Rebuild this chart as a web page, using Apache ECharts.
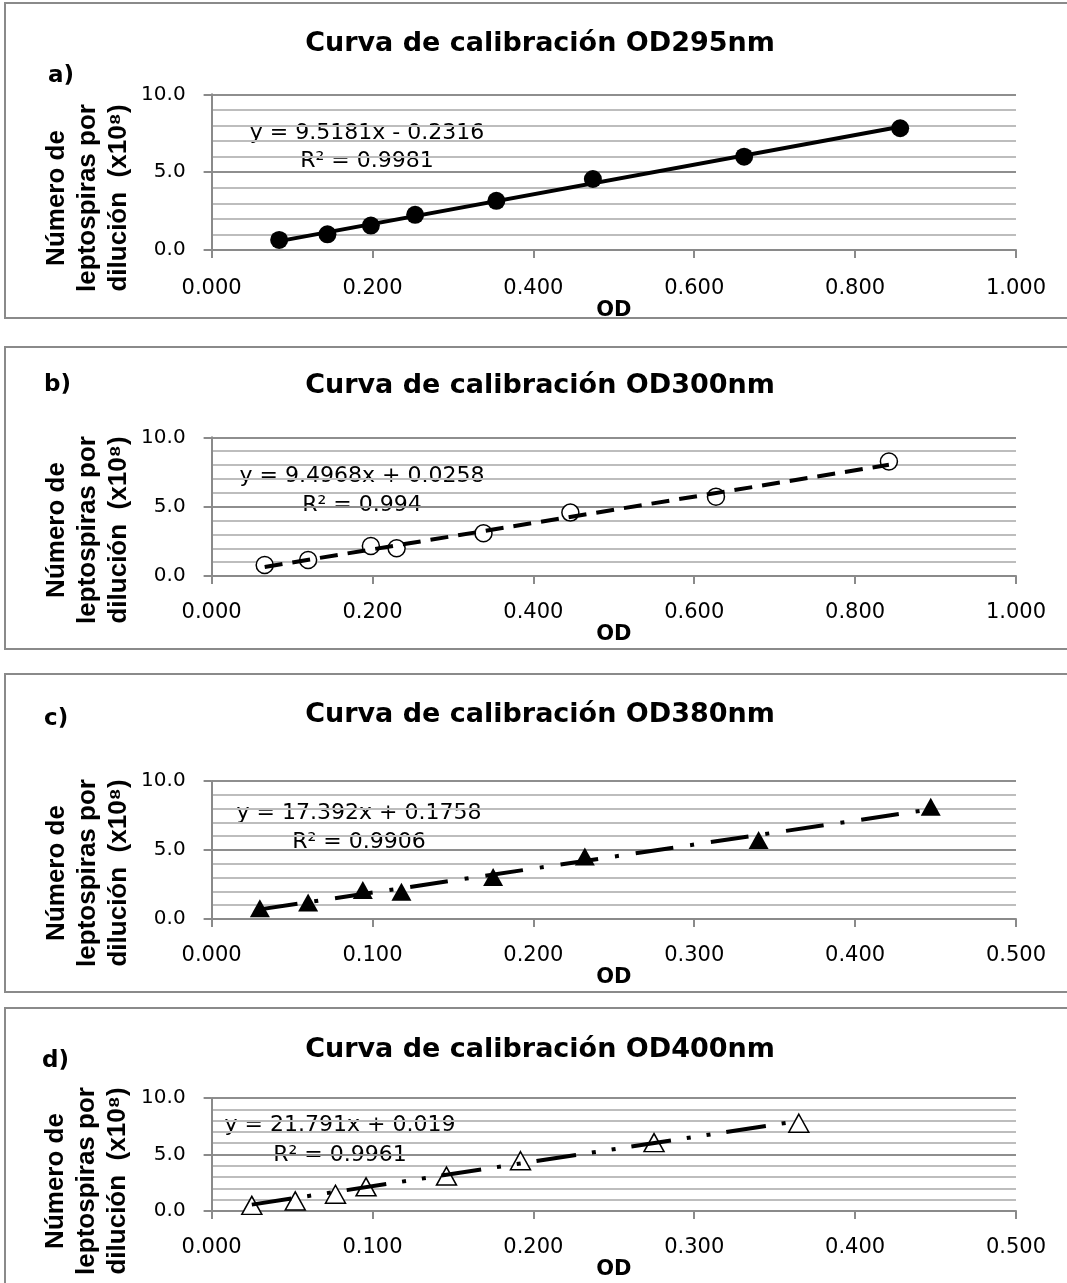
<!DOCTYPE html>
<html><head><meta charset="utf-8">
<script src="https://cdn.jsdelivr.net/npm/echarts@6/dist/echarts.min.js"></script>
<style>html,body{margin:0;padding:0;background:#fff}#c{width:1067px;height:1283px}</style>
</head><body><div id="c"></div>
<script>
// ---- data ----
const panelLabels = ['a)', 'b)', 'c)', 'd)'];
const titles = ['Curva de calibración OD295nm', 'Curva de calibración OD300nm', 'Curva de calibración OD380nm', 'Curva de calibración OD400nm'];
const yAxisName = 'Número de\nleptospiras por\ndilución  (x10⁸)';
const xAxisName = 'OD';
const od295 = [0.084, 0.144, 0.198, 0.253, 0.354, 0.474, 0.662, 0.856];
const n295  = [0.65, 1.01, 1.57, 2.26, 3.16, 4.56, 5.99, 7.82];
const od300 = [0.066, 0.120, 0.198, 0.230, 0.338, 0.446, 0.627, 0.842];
const n300  = [0.79, 1.15, 2.16, 2.00, 3.08, 4.57, 5.72, 8.25];
const od380 = [0.030, 0.060, 0.094, 0.118, 0.175, 0.232, 0.340, 0.447];
const n380  = [0.77, 1.20, 2.10, 1.98, 3.04, 4.52, 5.72, 8.14];
const od400 = [0.025, 0.052, 0.077, 0.096, 0.146, 0.192, 0.275, 0.365];
const n400  = [0.50, 0.89, 1.48, 2.14, 3.09, 4.45, 6.05, 7.77];
const slopes = [9.5181, 9.4968, 17.392, 21.791];
const intercepts = [-0.2316, 0.0258, 0.1758, 0.019];
const eqTexts = ['y = 9.5181x - 0.2316', 'y = 9.4968x + 0.0258', 'y = 17.392x + 0.1758', 'y = 21.791x + 0.019'];
const r2Texts = ['R² = 0.9981', 'R² = 0.994', 'R² = 0.9906', 'R² = 0.9961'];
const xMaxes = [1.0, 1.0, 0.5, 0.5];
const xIntervals = [0.2, 0.2, 0.1, 0.1];
const yMax = 10, yInterval = 5;

// ---- layout / style ----
const odList = [od295, od300, od380, od400];
const nList = [n295, n300, n380, n400];
const gridTops = [94.3, 437.3, 781, 1098];
const gridHeights = [155.7, 138.7, 138, 113];
const gridLeft = 211.6, gridWidth = 804.4;
const nameGaps = [35, 40, 40, 40];
const labelMargins = [28, 26, 26, 26];
const boxes = [[5, 3, 1080, 315], [5, 347, 1080, 302], [5, 674, 1080, 318], [5, 1008, 1080, 300]];
const labelPos = [[48, 76], [44, 385], [44, 719], [42, 1061]];
const titleY = [44, 386, 715, 1050];
const yNamePos = [[88, 198], [88, 530], [88, 873], [87, 1181]];
const eqPos = [[367, 133, 161], [362, 476, 505], [359, 813, 842], [340, 1125, 1155]];
const lineTypes = ['solid', [18, 10], [38, 17, 4, 17], [40, 16, 4, 16, 4, 16]];
const markers = [
  {symbol: 'circle', size: 18, color: '#000', border: '#000', bw: 0},
  {symbol: 'circle', size: 17, color: '#fff', border: '#000', bw: 1.5},
  {symbol: 'triangle', size: [20, 18], color: '#000', border: '#000', bw: 0},
  {symbol: 'triangle', size: [20, 18], color: '#fff', border: '#000', bw: 1.5}
];

const grids = [], xAxes = [], yAxes = [], series = [], graphics = [];
for (let i = 0; i < 4; i++) {
  grids.push({left: gridLeft, top: gridTops[i], width: gridWidth, height: gridHeights[i]});
  xAxes.push({
    type: 'value', gridIndex: i, min: 0, max: xMaxes[i], interval: xIntervals[i],
    name: xAxisName, nameLocation: 'middle', nameGap: nameGaps[i],
    nameTextStyle: {fontFamily: 'DejaVu Sans', fontWeight: 'bold', fontSize: 21, color: '#000'},
    axisLine: {show: true, onZero: false, lineStyle: {color: '#8a8a8a', width: 2}},
    axisTick: {show: true, length: 8, lineStyle: {color: '#8a8a8a', width: 2}},
    axisLabel: {fontFamily: 'DejaVu Sans', fontSize: 21, color: '#000', margin: labelMargins[i],
      formatter: v => v.toFixed(3)},
    splitLine: {show: false}
  });
  yAxes.push({
    type: 'value', gridIndex: i, min: 0, max: yMax, interval: yInterval,
    axisLine: {show: true, lineStyle: {color: '#8a8a8a', width: 2}},
    axisTick: {show: true, length: 8, lineStyle: {color: '#8a8a8a', width: 2}},
    axisLabel: {fontFamily: 'DejaVu Sans', fontSize: 20, color: '#000', margin: 26,
      formatter: v => v.toFixed(1)},
    splitLine: {show: true, lineStyle: {color: '#8e8e8e', width: 2}},
    minorTick: {show: false, splitNumber: 5},
    minorSplitLine: {show: true, lineStyle: {color: '#bdbdbd', width: 2}}
  });
  const xs = odList[i], ys = nList[i];
  series.push({
    type: 'scatter', xAxisIndex: i, yAxisIndex: i, z: 2,
    symbol: markers[i].symbol, symbolSize: markers[i].size,
    itemStyle: {color: markers[i].color, borderColor: markers[i].border, borderWidth: markers[i].bw, opacity: 1},
    data: xs.map((x, k) => [x, ys[k]])
  });
  const x0 = Math.min(...xs), x1 = Math.max(...xs);
  series.push({
    type: 'line', xAxisIndex: i, yAxisIndex: i, z: 3, symbol: 'none', silent: true,
    lineStyle: {color: '#000', width: 4, type: lineTypes[i]},
    data: [[x0, slopes[i] * x0 + intercepts[i]], [x1, slopes[i] * x1 + intercepts[i]]]
  });
  const b = boxes[i];
  graphics.push({type: 'rect', shape: {x: b[0], y: b[1], width: b[2], height: b[3]},
    style: {fill: 'none', stroke: '#8a8a8a', lineWidth: 2}, z: -1});
  graphics.push({type: 'text', x: labelPos[i][0], y: labelPos[i][1],
    style: {text: panelLabels[i], font: 'bold 23px "DejaVu Sans"', fill: '#000', textAlign: 'left', textVerticalAlign: 'middle'}});
  graphics.push({type: 'text', x: 540, y: titleY[i],
    style: {text: titles[i], font: 'bold 27px "DejaVu Sans"', fill: '#000', textAlign: 'center', textVerticalAlign: 'middle'}});
  graphics.push({type: 'text', x: yNamePos[i][0], y: yNamePos[i][1], rotation: Math.PI / 2,
    style: {text: yAxisName, font: 'bold 26px "Liberation Sans"', lineHeight: 31, fill: '#000', textAlign: 'center', textVerticalAlign: 'middle'}});
  graphics.push({type: 'text', x: eqPos[i][0], y: eqPos[i][1],
    style: {text: eqTexts[i], font: '22px "DejaVu Sans"', fill: '#000', textAlign: 'center', textVerticalAlign: 'middle'}});
  graphics.push({type: 'text', x: eqPos[i][0], y: eqPos[i][2],
    style: {text: r2Texts[i], font: '22px "DejaVu Sans"', fill: '#000', textAlign: 'center', textVerticalAlign: 'middle'}});
}

const chart = echarts.init(document.getElementById('c'), null, {renderer: 'canvas'});
chart.setOption({
  animation: false,
  backgroundColor: '#fff',
  grid: grids, xAxis: xAxes, yAxis: yAxes, series: series,
  graphic: graphics
});
</script></body></html>
